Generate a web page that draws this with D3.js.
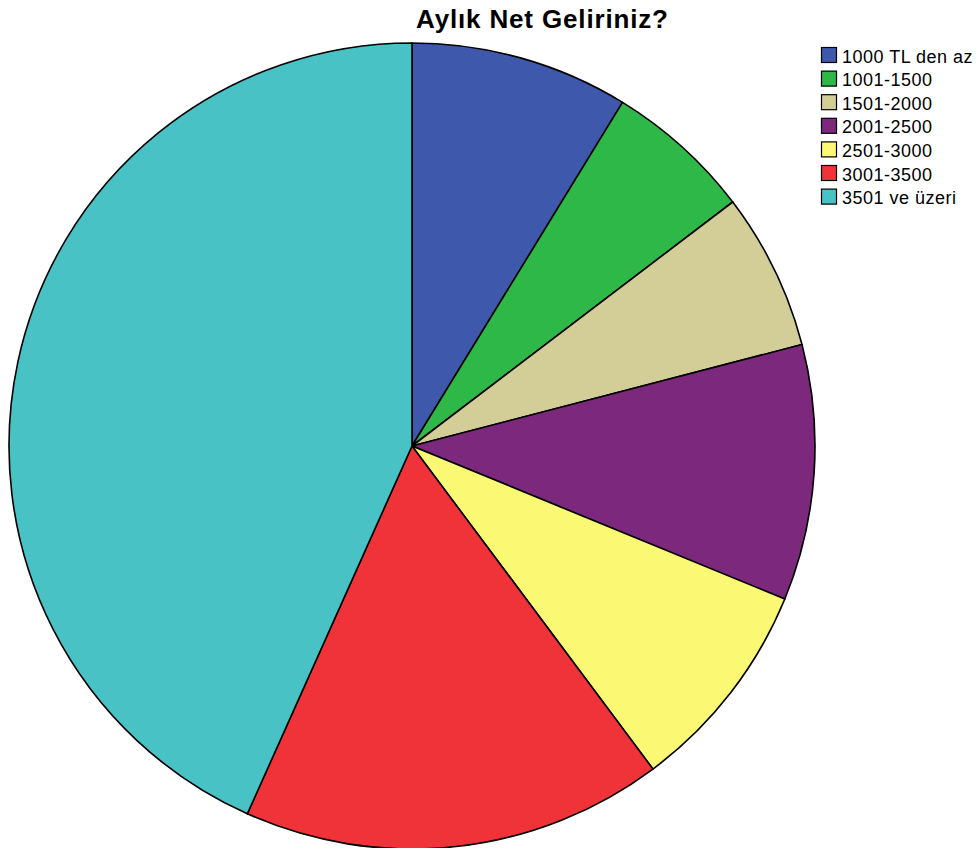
<!DOCTYPE html>
<html>
<head>
<meta charset="utf-8">
<script src="https://cdn.jsdelivr.net/npm/d3@7"></script>
<style>
  html, body { margin: 0; padding: 0; background: #fff; }
  svg { display: block; }
</style>
</head>
<body>
<svg id="chart" width="980" height="848"></svg>
<script>
// Monthly net income distribution (percent of respondents)
const categories = ["1000 TL den az", "1001-1500", "1501-2000", "2001-2500", "2501-3000", "3001-3500", "3501 ve üzeri"];
const shares = [8.75, 5.9, 6.3, 10.25, 8.6, 16.9, 43.3];
const colors = ["#3E58AC", "#2EB848", "#D3CE97", "#7C287D", "#FBF873", "#EF3338", "#48C2C5"];
const title = "Aylık Net Geliriniz?";

const data = categories.map((c, i) => ({ label: c, value: shares[i], color: colors[i] }));

const svg = d3.select("#chart");
const cx = 412, cy = 446, radius = 403;

const pie = d3.pie().value(d => d.value).sort(null);
const arc = d3.arc().innerRadius(0).outerRadius(radius);

svg.append("g")
  .attr("transform", `translate(${cx},${cy})`)
  .selectAll("path")
  .data(pie(data))
  .join("path")
  .attr("d", arc)
  .attr("fill", d => d.data.color)
  .attr("stroke", "#000")
  .attr("stroke-width", 1.6)
  .attr("stroke-linejoin", "round");

svg.append("text")
  .attr("x", 416)
  .attr("y", 28)
  .attr("textLength", 252)
  .attr("lengthAdjust", "spacing")
  .attr("font-family", "Liberation Sans, Arial, sans-serif")
  .attr("font-weight", "bold")
  .attr("font-size", 26)
  .attr("fill", "#000")
  .text(title);

const legend = svg.append("g").attr("transform", "translate(821,47)");
const rowH = 23.6;
const rows = legend.selectAll("g")
  .data(data)
  .join("g")
  .attr("transform", (d, i) => `translate(0,${i * rowH})`);

rows.append("rect")
  .attr("x", 0.5).attr("y", 0.5)
  .attr("width", 15).attr("height", 15)
  .attr("fill", d => d.color)
  .attr("stroke", "#000")
  .attr("stroke-width", 1.2);

rows.append("text")
  .attr("x", 21)
  .attr("y", 15.5)
  .attr("font-family", "Liberation Sans, Arial, sans-serif")
  .attr("font-size", 18)
  .attr("letter-spacing", 0.5)
  .attr("fill", "#000")
  .text(d => d.label);
</script>
</body>
</html>
